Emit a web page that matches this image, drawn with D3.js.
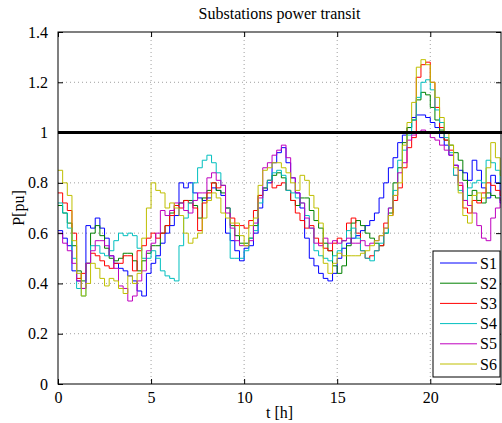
<!DOCTYPE html>
<html>
<head>
<meta charset="utf-8">
<script src="https://cdn.jsdelivr.net/npm/d3@7"></script>
<style>
  body { margin: 0; background: #fff; }
  text { font-family: "Liberation Serif", "Times New Roman", serif; }
</style>
</head>
<body>
<svg width="502" height="423"></svg>
<script>
const svg = d3.select("svg");

// quarter-hour samples, t = 0 .. 23.75 h
const hours = d3.range(0, 24, 0.25);
const names = ["S1", "S2", "S3", "S4", "S5", "S6"];
const colors = ["#0000ff", "#008000", "#ff0000", "#00bfbf", "#bf00bf", "#bfbf00"];
const xTicks = [0, 5, 10, 15, 20];
const yTicks = [0, 0.2, 0.4, 0.6, 0.8, 1, 1.2, 1.4];

const s1 = [0.61,0.58,0.55,0.45, 0.41,0.38,0.63,0.62, 0.66,0.62,0.58,0.51, 0.48,0.46,0.45,0.43,
            0.41,0.37,0.35,0.44, 0.48,0.51,0.56,0.60, 0.63,0.67,0.80,0.78, 0.80,0.76,0.74,0.73,
            0.74,0.78,0.77,0.75, 0.60,0.57,0.53,0.49, 0.54,0.55,0.60,0.70, 0.77,0.80,0.88,0.92,
            0.94,0.88,0.82,0.76, 0.70,0.58,0.50,0.47, 0.44,0.42,0.41,0.44, 0.50,0.54,0.56,0.58,
            0.59,0.61,0.63,0.65, 0.68,0.74,0.80,0.86, 0.90,0.96,0.99,1.02, 1.06,1.07,1.07,1.06,
            1.04,1.02,0.98,0.95, 0.91,0.87,0.85,0.84, 0.81,0.89,0.85,0.78, 0.74,0.83,0.80,0.72];
const s2 = [0.71,0.68,0.64,0.55, 0.45,0.41,0.48,0.60, 0.63,0.59,0.54,0.50, 0.49,0.50,0.52,0.52,
            0.49,0.45,0.49,0.52, 0.55,0.55,0.60,0.63, 0.68,0.71,0.72,0.73, 0.73,0.71,0.66,0.74,
            0.77,0.80,0.77,0.76, 0.70,0.63,0.59,0.56, 0.56,0.58,0.63,0.75, 0.78,0.81,0.83,0.84,
            0.82,0.77,0.73,0.71, 0.74,0.74,0.69,0.65, 0.62,0.56,0.53,0.47, 0.44,0.47,0.55,0.64,
            0.65,0.63,0.60,0.58, 0.56,0.55,0.60,0.68, 0.80,0.86,0.96,1.02, 1.05,1.13,1.16,1.15,
            1.10,1.05,1.01,0.97, 0.95,0.92,0.89,0.81, 0.75,0.77,0.73,0.72, 0.76,0.75,0.74,0.73];
const s3 = [0.76,0.72,0.69,0.60, 0.42,0.44,0.48,0.52, 0.51,0.49,0.47,0.46, 0.48,0.48,0.51,0.51,
            0.45,0.53,0.55,0.58, 0.60,0.58,0.60,0.63, 0.67,0.71,0.70,0.73, 0.72,0.70,0.61,0.72,
            0.76,0.80,0.78,0.79, 0.70,0.66,0.63,0.63, 0.62,0.65,0.69,0.75, 0.78,0.81,0.78,0.79,
            0.80,0.77,0.73,0.68, 0.65,0.62,0.63,0.58, 0.56,0.54,0.53,0.56, 0.58,0.57,0.64,0.66,
            0.60,0.53,0.50,0.51, 0.53,0.55,0.64,0.67, 0.73,0.78,0.86,0.94, 0.98,1.22,1.27,1.28,
            1.20,1.10,1.02,0.97, 0.93,0.83,0.79,0.70, 0.68,0.73,0.72,0.76, 0.80,0.79,0.77,0.75];
const s4 = [0.72,0.68,0.62,0.50, 0.38,0.35,0.48,0.55, 0.55,0.52,0.51,0.53, 0.57,0.60,0.59,0.60,
            0.59,0.54,0.50,0.50, 0.53,0.50,0.45,0.43, 0.42,0.41,0.55,0.66, 0.72,0.80,0.86,0.89,
            0.91,0.88,0.84,0.79, 0.70,0.50,0.50,0.50, 0.53,0.58,0.61,0.72, 0.78,0.81,0.84,0.85,
            0.83,0.77,0.76,0.74, 0.72,0.67,0.62,0.53, 0.51,0.50,0.49,0.51, 0.53,0.57,0.61,0.62,
            0.58,0.53,0.50,0.49, 0.53,0.56,0.60,0.70, 0.77,0.89,0.93,0.99, 1.05,1.14,1.20,1.21,
            1.17,1.09,1.04,0.98, 0.92,0.83,0.77,0.73, 0.78,0.80,0.81,0.80, 0.89,0.88,0.85,0.80];
const s5 = [0.60,0.56,0.53,0.48, 0.41,0.38,0.48,0.53, 0.57,0.57,0.55,0.51, 0.46,0.39,0.38,0.33,
            0.35,0.41,0.45,0.53, 0.56,0.60,0.69,0.67, 0.69,0.72,0.72,0.69, 0.68,0.73,0.76,0.76,
            0.82,0.84,0.81,0.79, 0.68,0.62,0.57,0.55, 0.55,0.57,0.64,0.74, 0.86,0.88,0.91,0.93,
            0.95,0.90,0.82,0.76, 0.72,0.66,0.62,0.56, 0.55,0.58,0.56,0.57, 0.56,0.57,0.58,0.56,
            0.56,0.57,0.55,0.56, 0.57,0.59,0.62,0.70, 0.75,0.84,0.88,0.97, 0.99,1.00,1.01,1.00,
            0.98,0.97,0.95,0.93, 0.91,0.87,0.80,0.73, 0.71,0.68,0.63,0.58, 0.57,0.66,0.70,0.74];
const s6 = [0.85,0.80,0.75,0.57, 0.44,0.35,0.40,0.48, 0.46,0.42,0.39,0.42, 0.41,0.38,0.36,0.43,
            0.40,0.44,0.58,0.70, 0.80,0.77,0.76,0.70, 0.72,0.70,0.67,0.60, 0.56,0.58,0.60,0.66,
            0.73,0.76,0.74,0.68, 0.66,0.64,0.64,0.59, 0.55,0.63,0.66,0.79, 0.85,0.86,0.88,0.88,
            0.86,0.84,0.80,0.77, 0.83,0.81,0.75,0.70, 0.64,0.48,0.44,0.48, 0.52,0.51,0.51,0.51,
            0.51,0.52,0.53,0.55, 0.57,0.59,0.62,0.67, 0.75,0.80,0.95,1.04, 1.12,1.26,1.29,1.27,
            1.20,1.14,1.06,1.00, 0.95,0.86,0.76,0.67, 0.64,0.75,0.76,0.74, 0.86,0.96,0.90,0.83];
const series = [s1, s2, s3, s4, s5, s6];

const plotL = 58, plotR = 501, plotT = 32, plotB = 384;

const x = d3.scaleLinear().domain([0, 23.8]).range([plotL, plotR]);
const y = d3.scaleLinear().domain([0, 1.4]).range([plotB, plotT]);

svg.append("defs").append("clipPath").attr("id", "plot")
    .append("rect")
    .attr("x", plotL).attr("y", plotT)
    .attr("width", plotR - plotL).attr("height", plotB - plotT);

// grid
const grid = svg.append("g")
    .attr("stroke", "#888")
    .attr("stroke-width", 0.8)
    .attr("stroke-dasharray", "1,3");
grid.selectAll(".gx").data(xTicks.slice(1)).join("line")
    .attr("x1", d => x(d)).attr("x2", d => x(d))
    .attr("y1", plotT).attr("y2", plotB);
grid.selectAll(".gy").data(yTicks.slice(1, -1)).join("line")
    .attr("x1", plotL).attr("x2", plotR)
    .attr("y1", d => y(d)).attr("y2", d => y(d));

// data lines (step curves, last value held to the edge)
const line = d3.line()
    .x((d, i) => x(i < hours.length ? hours[i] : 24))
    .y(d => y(d))
    .curve(d3.curveStepAfter);

const plot = svg.append("g").attr("clip-path", "url(#plot)");
series.forEach((s, k) => {
    plot.append("path")
        .datum(s.concat([s[s.length - 1]]))
        .attr("fill", "none")
        .attr("stroke", colors[k])
        .attr("stroke-width", 1)
        .attr("d", line);
});

// limit line at 1 pu
svg.append("line")
    .attr("x1", plotL).attr("x2", plotR + 1)
    .attr("y1", y(1)).attr("y2", y(1))
    .attr("stroke", "#000")
    .attr("stroke-width", 3);

// axes
const tick = 5;
svg.append("g")
    .attr("transform", `translate(0,${plotB})`)
    .call(d3.axisBottom(x).tickValues(xTicks).tickSize(-tick).tickPadding(8).tickFormat(d3.format("d")))
    .call(g => g.select(".domain").remove())
    .call(g => g.selectAll("text").attr("font-size", 16).attr("font-family", "Liberation Serif").attr("fill", "#000"));
svg.append("g")
    .attr("transform", `translate(0,${plotT})`)
    .call(d3.axisTop(x).tickValues(xTicks).tickSize(-tick).tickFormat(""))
    .call(g => g.select(".domain").remove());
svg.append("g")
    .attr("transform", `translate(${plotL},0)`)
    .call(d3.axisLeft(y).tickValues(yTicks).tickSize(-tick).tickPadding(10).tickFormat(d => String(+d.toFixed(1))))
    .call(g => g.select(".domain").remove())
    .call(g => g.selectAll("text").attr("font-size", 16).attr("font-family", "Liberation Serif").attr("fill", "#000"));
svg.append("g")
    .attr("transform", `translate(${plotR},0)`)
    .call(d3.axisRight(y).tickValues(yTicks).tickSize(-tick).tickFormat(""))
    .call(g => g.select(".domain").remove());

svg.append("rect")
    .attr("x", plotL).attr("y", plotT)
    .attr("width", plotR - plotL).attr("height", plotB - plotT)
    .attr("fill", "none")
    .attr("stroke", "#000")
    .attr("stroke-width", 1);

// labels
svg.append("text")
    .attr("x", (plotL + plotR) / 2).attr("y", 19)
    .attr("text-anchor", "middle")
    .attr("font-size", 16)
    .text("Substations power transit");
svg.append("text")
    .attr("x", (plotL + plotR) / 2).attr("y", 418)
    .attr("text-anchor", "middle")
    .attr("font-size", 16)
    .text("t [h]");
svg.append("text")
    .attr("transform", `translate(24,${(plotT + plotB) / 2}) rotate(-90)`)
    .attr("text-anchor", "middle")
    .attr("font-size", 16)
    .text("P[pu]");

// legend
const lg = svg.append("g").attr("transform", "translate(433,251)");
lg.append("rect")
    .attr("width", 67).attr("height", 126)
    .attr("fill", "#fff")
    .attr("stroke", "#000");
const item = lg.selectAll(".item").data(names).join("g")
    .attr("transform", (d, i) => `translate(0,${12 + i * 20.2})`);
item.append("line")
    .attr("x1", 7).attr("x2", 44)
    .attr("stroke", (d, i) => colors[i])
    .attr("stroke-width", 1);
item.append("text")
    .attr("x", 47).attr("y", 5.5)
    .attr("font-size", 16)
    .text(d => d);
</script>
</body>
</html>
